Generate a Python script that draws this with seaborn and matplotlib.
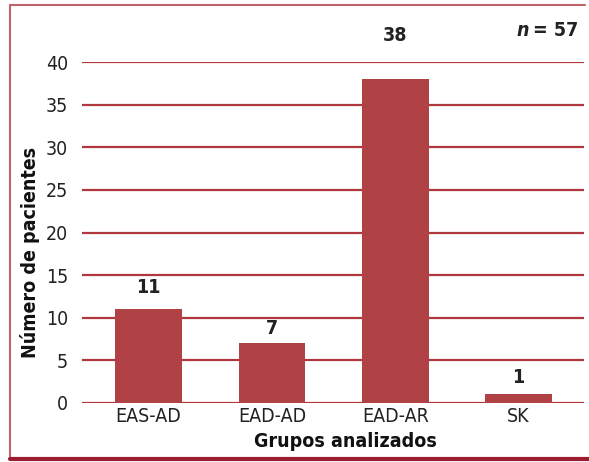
import matplotlib
matplotlib.use("Agg")
import matplotlib.pyplot as plt
from matplotlib.lines import Line2D
import seaborn as sns
import pandas as pd

categories = ["EAS-AD", "EAD-AD", "EAD-AR", "SK"]
values = [11, 7, 38, 1]
yticks = [0, 5, 10, 15, 20, 25, 30, 35, 40]

sns.set_theme(style="white")
plt.rcParams['font.family'] = ['DejaVu Sans']
plt.rcParams['font.stretch'] = 'condensed'

df = pd.DataFrame({"grupo": categories, "n": values})

fig = plt.figure(figsize=(5.89, 4.62), dpi=100)
ax = fig.add_axes([82/589, 59/462, (584-82)/589, (403-62)/462])

bar_color = "#b04145"
grid_color = "#b0373d"

for t in yticks:
    ax.axhline(t, color=grid_color, lw=1.6, zorder=0)

sns.barplot(data=df, x="grupo", y="n", color=bar_color, width=0.54,
            saturation=1, ax=ax, zorder=2, linewidth=0)

ax.set_ylim(0, 40)
ax.set_xlim(-0.54, 3.53)
ax.set_yticks(yticks)
ax.set_yticklabels([str(t) for t in yticks], fontsize=14, color="#222222")
ax.tick_params(axis='y', length=0, pad=10)
ax.tick_params(axis='x', length=0, pad=3, labelsize=14, labelcolor="#222222")
for s in ax.spines.values():
    s.set_visible(False)

label_offsets = [1.4, 0.6, 4.0, 0.9]
for i, v in enumerate(values):
    ax.text(i, v + label_offsets[i], str(v), ha="center", va="bottom",
            fontsize=14, fontweight="bold", color="#222222", clip_on=False)

ax.set_xlabel("Grupos analizados", fontsize=14, fontweight="bold",
              color="#111111")
ax.set_ylabel("Número de pacientes", fontsize=14, fontweight="bold",
              color="#111111")
ax.xaxis.set_label_coords((345 - 82) / 502, (403 - 432) / 341)
ax.yaxis.set_label_coords((40 - 82) / 502, (403 - 252) / 341)

fig.text(578/589, 1 - 31/462, "= 57", fontsize=14, fontweight="bold",
         ha="right", va="center", color="#222222")
fig.text(529/589, 1 - 31/462, "n", fontsize=14, fontweight="bold",
         fontstyle="italic", ha="right", va="center", color="#222222")

border = "#c0646c"
fig.add_artist(Line2D([10/589, 10/589], [1 - 459/462, 1 - 5/462],
                      color=border, lw=1.5, transform=fig.transFigure))
fig.add_artist(Line2D([10/589, 585/589], [1 - 5/462, 1 - 5/462],
                      color=border, lw=1.5, transform=fig.transFigure))
fig.add_artist(Line2D([10/589, 1.0], [1 - 459/462, 1 - 459/462],
                      color="#9b1b30", lw=3, transform=fig.transFigure))

fig.savefig("out.png", dpi=100)
